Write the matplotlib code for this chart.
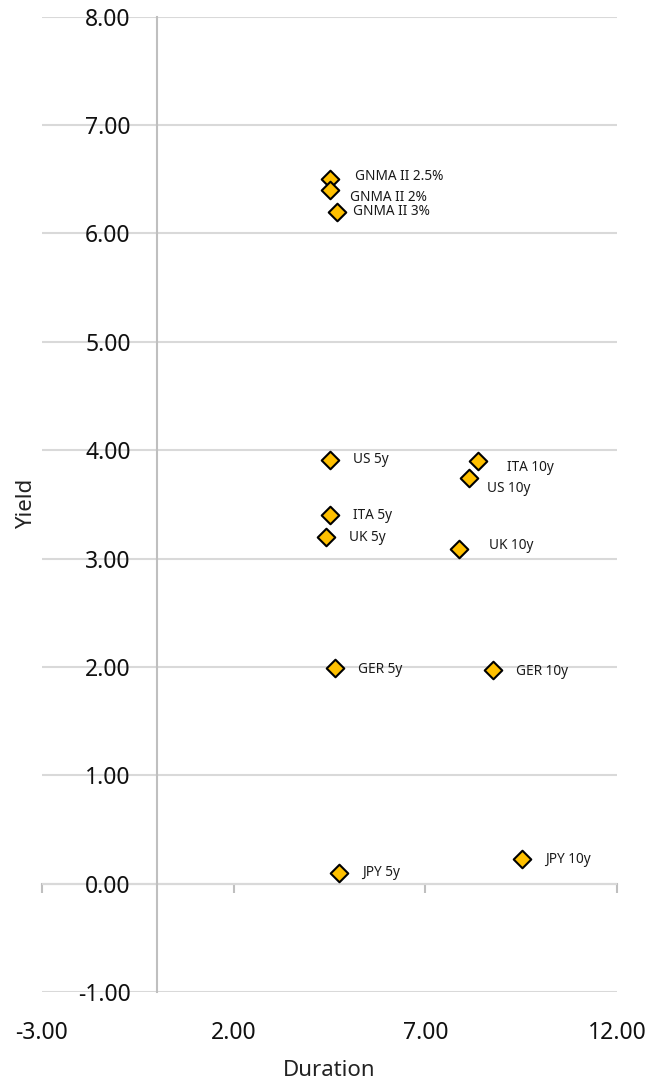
import matplotlib
matplotlib.use("Agg")
import matplotlib.pyplot as plt

plt.rcParams['font.family'] = ['Noto Sans', 'DejaVu Sans']

# Bond duration vs yield
names = ["GNMA II 2.5%", "GNMA II 2%", "GNMA II 3%", "US 5y", "ITA 10y", "US 10y",
         "ITA 5y", "UK 5y", "UK 10y", "GER 5y", "GER 10y", "JPY 5y", "JPY 10y"]
duration = [4.51, 4.50, 4.70, 4.50, 8.38, 8.13, 4.51, 4.41, 7.87, 4.64, 8.77, 4.76, 9.53]
yields = [6.50, 6.40, 6.20, 3.91, 3.90, 3.74, 3.40, 3.20, 3.09, 1.99, 1.97, 0.10, 0.23]

x_ticks = [-3, 2, 7, 12]
y_ticks = [-1, 0, 1, 2, 3, 4, 5, 6, 7, 8]

# label offsets in points (dx, dy) relative to each marker
label_offsets = [(18, 2.2), (14.4, -5), (11.5, 0), (16.6, 0), (21, -5), (13, -7),
                 (16.6, 0), (16.6, -0.7), (21.6, 2.2), (16.6, -1.4), (16.6, -0.7),
                 (16.6, 0), (16.6, -0.7)]

fig = plt.figure(figsize=(6.47, 10.8), dpi=100)
ax = fig.add_axes([42 / 647, 1 - 992 / 1080, 575 / 647, 975.3 / 1080])

ax.set_xlim(-3, 12)
ax.set_ylim(-1, 8)
ax.set_xticks(x_ticks)
ax.set_yticks(y_ticks)
ax.set_xticklabels([f"{v:.2f}" for v in x_ticks])
ax.set_yticklabels([f"{v:.2f}" for v in y_ticks])

grid_col = "#D9D9D9"
axis_col = "#BFBFBF"
ax.yaxis.grid(True, color=grid_col, linewidth=1.5, zorder=0)
ax.set_axisbelow(True)

for s in ["top", "right", "bottom"]:
    ax.spines[s].set_visible(False)
ax.spines["left"].set_position(("data", 0))
ax.spines["left"].set_color(axis_col)
ax.spines["left"].set_linewidth(1.5)

ax.tick_params(axis="y", length=0, pad=19, labelsize=16.5, labelcolor="#111111")
ax.tick_params(axis="x", length=0, pad=21, labelsize=16.5, labelcolor="#111111")

# horizontal axis line with tick marks at y = 0
sec = ax.secondary_xaxis(1 / 9)
sec.set_xticks(x_ticks)
sec.tick_params(axis="x", direction="out", length=6.5, width=1.5, color=axis_col,
                labelbottom=False, labeltop=False)
sec.spines["bottom"].set_color(axis_col)
sec.spines["bottom"].set_linewidth(1.5)
for s in ["top", "left", "right"]:
    sec.spines[s].set_visible(False)

ax.scatter(duration, yields, marker="D", s=80, facecolor="#FFC000",
           edgecolor="black", linewidth=1.5, zorder=5, clip_on=False)

for name, x, y, off in zip(names, duration, yields, label_offsets):
    ax.annotate(name, (x, y), xytext=off, textcoords="offset points",
                ha="left", va="center", fontsize=9.8, color="#1a1a1a")

ax.set_xlabel("Duration", fontsize=16, color="#222222")
ax.set_ylabel("Yield", fontsize=16, color="#222222")
ax.xaxis.set_label_coords(0.5, -0.07)
ax.yaxis.set_label_coords(-0.008, 0.5)

fig.savefig("out.png", dpi=100)
